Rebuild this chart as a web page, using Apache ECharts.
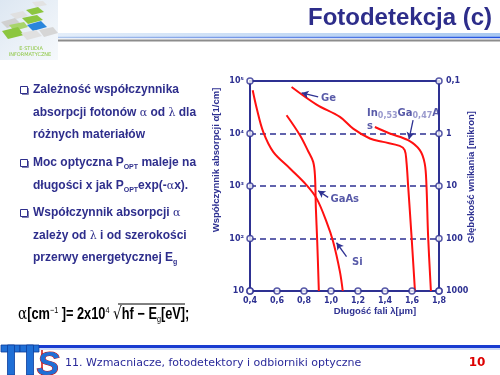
<!DOCTYPE html>
<html><head><meta charset="utf-8">
<script src="https://cdn.jsdelivr.net/npm/echarts@6/dist/echarts.min.js"></script>
<style>html,body{margin:0;padding:0;background:#fff}#c{width:500px;height:375px}</style>
</head><body><div id="c"></div>
<script>
// ---- data ----
const xTickValues = [0.4, 0.6, 0.8, 1.0, 1.2, 1.4, 1.6, 1.8];
const xTickLabels = ['0,4', '0,6', '0,8', '1,0', '1,2', '1,4', '1,6', '1,8'];
const yTickValues = [10, 100, 1000, 10000, 100000];
const leftTickLabels = ['10', '10²', '10³', '10⁴', '10⁵'];
const rightTickLabels = ['1000', '100', '10', '1', '0,1'];

const siX = [0.420, 0.450, 0.498, 0.572, 0.696, 0.819, 0.893, 0.967, 1.016, 1.066, 1.087];
const siY = [66500, 29900, 10700, 4470, 2160, 1040, 581, 208, 87, 23.4, 10];
const gaasX = [0.671, 0.770, 0.831, 0.868, 0.881, 0.888, 0.898, 0.910];
const gaasY = [22300, 9290, 4600, 2880, 1610, 375, 87, 10];
const geX = [0.708, 0.893, 1.066, 1.164, 1.288, 1.386, 1.509, 1.546, 1.559, 1.571, 1.596, 1.622];
const geY = [76900, 35600, 20700, 12400, 8030, 6920, 5800, 4820, 2880, 1040, 116, 10];
const ingaasX = [1.325, 1.435, 1.571, 1.658, 1.694, 1.707, 1.719, 1.740];
const ingaasY = [13300, 10000, 7460, 4820, 2690, 1040, 116, 10];

const annNames = ['Ge', 'GaAs', 'Si', 'InGaAs'];
const annLabels = ['Ge', 'GaAs', 'Si', 'In{s|0,53}Ga{s|0,47}A\ns'];
const annLabelPos = [[0.923, 46300], [0.992, 556], [1.152, 34.7], [1.263, 17900]];
const annTails = [[0.905, 49600], [0.979, 607], [1.115, 45], [1.608, 17900]];
const annHeads = [[0.782, 59100], [0.905, 811], [1.041, 83], [1.578, 7800]];

// ---- helpers ----
const NAVY = '#2e3192';
const TXT = '#2e2e8c';
const pairs = (xs, ys) => xs.map((x, i) => [x, ys[i]]);
const lblMap = (vals, labels) => v => {
  const i = vals.findIndex(t => Math.abs(t - v) / t < 1e-6);
  return i >= 0 ? labels[i] : '';
};

const tickCircles = [];
xTickValues.forEach(x => tickCircles.push([x, yTickValues[0]]));
yTickValues.forEach(y => { tickCircles.push([xTickValues[0], y]); tickCircles.push([xTickValues[xTickValues.length - 1], y]); });

const curve = (name, xs, ys) => ({
  name, type: 'line', data: pairs(xs, ys), smooth: 0.35, showSymbol: false, symbol: 'none',
  lineStyle: { color: '#ff1010', width: 2 }, z: 3
});

const chart = echarts.init(document.getElementById('c'), null, { renderer: 'canvas' });

// logo tiles
const tiles = [
  [[32,2],[43,1],[47,5],[36,7], '#e2e2e2'],
  [[26,10],[38,7],[44,12],[32,15], '#8cc63f'],
  [[10,14],[23,11],[28,16],[16,19], '#e0e0e0'],
  [[22,18],[37,15],[43,20],[28,24], '#8cc63f'],
  [[1,22],[15,18],[21,24],[7,28], '#d0d0d0'],
  [[27,25],[41,21],[47,27],[33,31], '#2a86dc'],
  [[9,25],[24,22],[28,27],[14,31], '#a8d46a'],
  [[2,31],[18,27],[24,35],[8,39], '#8cc63f'],
  [[39,30],[53,27],[58,33],[44,37], '#d6d6d6'],
  [[21,33],[36,30],[42,36],[27,40], '#e0e0e0']
];
const logo = [{ type: 'rect', shape: { x: 0, y: 0, width: 58, height: 60 },
  style: { fill: new echarts.graphic.LinearGradient(0, 0, 1, 1, [{ offset: 0, color: '#dde7f2' }, { offset: 1, color: '#f6f9fc' }]) } }];
tiles.forEach(t => logo.push({ type: 'polygon', shape: { points: t.slice(0, 4) }, style: { fill: t[4] } }));
logo.push({ type: 'text', x: 31, y: 49, style: { text: 'E-STUDIA', fill: '#8cc63f', font: '5px "DejaVu Sans"', align: 'center', verticalAlign: 'middle' } });
logo.push({ type: 'text', x: 30, y: 55, style: { text: 'INFORMATYCZNE', fill: '#8cc63f', font: '5px "DejaVu Sans"', align: 'center', verticalAlign: 'middle' } });

const bulletRich = {
  g: { fontFamily: '"DejaVu Serif"', fontWeight: 'normal', fontSize: 11, color: TXT },
  s: { fontSize: 7, fontWeight: 'bold', fontFamily: '"Liberation Sans"', color: TXT, verticalAlign: 'bottom', lineHeight: 7 }
};
const bulletLines = [
  ['Zależność współczynnika', 90, true],
  ['absorpcji fotonów {g|α} od {g|λ} dla', 113, false],
  ['różnych materiałów', 135, false],
  ['Moc optyczna P{s|OPT} maleje na', 163, true],
  ['długości x jak P{s|OPT}exp(-{g|α}x).', 186, false],
  ['Współczynnik absorpcji {g|α}', 213, true],
  ['zależy od {g|λ} i od szerokości', 236, false],
  ['przerwy energetycznej E{s|g}', 258, false]
];
const bullets = [];
bulletLines.forEach(([t, y, b]) => {
  bullets.push({ type: 'text', x: 33, y: y, style: { text: t, fill: TXT, font: 'bold 12px "Liberation Sans"', verticalAlign: 'middle', lineHeight: 15, rich: bulletRich } });
  if (b) {
    bullets.push({ type: 'rect', shape: { x: 20.5, y: y - 3.5, width: 7, height: 7 }, style: { fill: '#fff', stroke: TXT, lineWidth: 1 } });
    bullets.push({ type: 'polyline', shape: { points: [[22, y + 4.5], [28.5, y + 4.5], [28.5, y - 2]] }, style: { stroke: '#8080b0', lineWidth: 1, fill: null } });
  }
});

const option = {
  animation: false,
  backgroundColor: '#ffffff',
  textStyle: { fontFamily: '"DejaVu Sans"' },
  grid: { left: 250, top: 81, width: 189, height: 210, show: true, borderColor: NAVY, borderWidth: 2, backgroundColor: 'transparent' },
  xAxis: {
    type: 'value', min: 0.4, max: 1.8, interval: 0.2,
    axisLine: { show: true, lineStyle: { color: NAVY, width: 2 } },
    axisTick: { show: false }, splitLine: { show: false },
    axisLabel: { color: NAVY, fontSize: 8, fontWeight: 'bold', margin: 6, formatter: lblMap(xTickValues, xTickLabels) }
  },
  yAxis: [{
    type: 'log', logBase: 10, min: 10, max: 100000,
    axisLine: { show: true, lineStyle: { color: NAVY, width: 2 } },
    axisTick: { show: false },
    splitLine: { show: true, lineStyle: { color: NAVY, width: 1.5, type: [6, 4] } },
    axisLabel: { color: NAVY, fontSize: 8, fontWeight: 'bold', margin: 6, formatter: lblMap(yTickValues, leftTickLabels) }
  }, {
    type: 'log', logBase: 10, min: 10, max: 100000, position: 'right',
    axisLine: { show: true, lineStyle: { color: NAVY, width: 2 } },
    axisTick: { show: false }, splitLine: { show: false },
    axisLabel: { color: NAVY, fontSize: 8, fontWeight: 'bold', margin: 7, formatter: lblMap(yTickValues, rightTickLabels) }
  }],
  series: [
    curve('Si', siX, siY),
    curve('GaAs', gaasX, gaasY),
    curve('Ge', geX, geY),
    curve('InGaAs', ingaasX, ingaasY),
    {
      name: 'ticks', type: 'scatter', data: tickCircles, symbol: 'circle', symbolSize: 6, clip: false, z: 5,
      itemStyle: { color: '#ffffff', borderColor: NAVY, borderWidth: 1.5 }, silent: true
    },
    {
      name: 'annotations', type: 'scatter', symbolSize: 1, clip: false, z: 6, silent: true,
      data: annLabelPos.map((p, i) => ({ value: p, name: annNames[i], label: { formatter: annLabels[i] } })),
      itemStyle: { color: 'rgba(0,0,0,0)' },
      label: { show: true, position: 'right', distance: 0, color: NAVY, fontSize: 10, fontWeight: 'bold', lineHeight: 13,
        rich: { s: { fontSize: 8, color: '#8080c0', fontWeight: 'bold', verticalAlign: 'bottom', lineHeight: 8 } } },
      markLine: {
        silent: true, symbol: ['none', 'arrow'], symbolSize: [6, 7], animation: false,
        lineStyle: { color: NAVY, width: 1.3, type: 'solid' }, label: { show: false },
        data: annTails.map((t, i) => [{ coord: t }, { coord: annHeads[i] }])
      }
    }
  ],
  graphic: [
    ...logo,
    { type: 'text', x: 492, y: 18, style: { text: 'Fotodetekcja (c)', fill: '#2d2d8a', font: 'bold 24px "Liberation Sans"', align: 'right', verticalAlign: 'middle' } },
    { type: 'rect', shape: { x: 58, y: 33, width: 442, height: 4 }, style: { fill: new echarts.graphic.LinearGradient(0, 0, 1, 0, [{ offset: 0, color: '#e4eefa' }, { offset: 1, color: '#a8c8f0' }]) } },
    { type: 'line', shape: { x1: 58, y1: 37.5, x2: 500, y2: 37.5 }, style: { stroke: new echarts.graphic.LinearGradient(0, 0, 1, 0, [{ offset: 0, color: '#b0c8ec' }, { offset: 1, color: '#2050e0' }]), lineWidth: 1.5 } },
    { type: 'line', shape: { x1: 58, y1: 40.5, x2: 500, y2: 40.5 }, style: { stroke: '#8c8c8c', lineWidth: 2 } },
    ...bullets,
    { type: 'text', x: 18, y: 315, scaleX: 0.8, style: {
        text: '{g|α}[cm{p|−1} ]= 2x10{p|4} {r|√}hf − E{b|g}[eV];',
        fill: '#000', font: 'bold 16px "Liberation Sans"', verticalAlign: 'middle', lineHeight: 18,
        rich: {
          g: { fontFamily: '"DejaVu Serif"', fontWeight: 'normal', fontSize: 17 },
          p: { fontSize: 9, verticalAlign: 'top', lineHeight: 9 },
          b: { fontSize: 9, verticalAlign: 'bottom', lineHeight: 9 },
          r: { fontFamily: '"DejaVu Sans"', fontWeight: 'normal', fontSize: 17 }
        } } },
    { type: 'line', shape: { x1: 118, y1: 304, x2: 185, y2: 304 }, style: { stroke: '#000', lineWidth: 1 } },
    { type: 'text', x: 216, y: 160, rotation: Math.PI / 2, style: { text: 'Współczynnik absorpcji α[1/cm]', fill: NAVY, font: 'bold 9.5px "Liberation Sans"', align: 'center', verticalAlign: 'middle' } },
    { type: 'text', x: 471, y: 177, rotation: Math.PI / 2, style: { text: 'Głębokość wnikania [mikron]', fill: NAVY, font: 'bold 9.5px "Liberation Sans"', align: 'center', verticalAlign: 'middle' } },
    { type: 'text', x: 375, y: 311, style: { text: 'Długość fali λ[μm]', fill: NAVY, font: 'bold 9.5px "Liberation Sans"', align: 'center', verticalAlign: 'middle' } },
    // footer
    { type: 'line', shape: { x1: 36, y1: 346.5, x2: 500, y2: 346.5 }, style: { stroke: '#1a3cd0', lineWidth: 3 } },
    { type: 'line', shape: { x1: 40, y1: 349, x2: 500, y2: 349 }, style: { stroke: '#9db6ef', lineWidth: 1 } },
    { type: 'rect', shape: { x: 1, y: 345, width: 19, height: 7 }, style: { fill: '#1f6fd6', stroke: '#0d3d9c', lineWidth: 0.8 } },
    { type: 'rect', shape: { x: 7.5, y: 345, width: 7, height: 30 }, style: { fill: '#1f6fd6', stroke: '#0d3d9c', lineWidth: 0.8 } },
    { type: 'rect', shape: { x: 20, y: 345, width: 19, height: 7 }, style: { fill: '#1f6fd6', stroke: '#0d3d9c', lineWidth: 0.8 } },
    { type: 'rect', shape: { x: 26.5, y: 345, width: 7, height: 30 }, style: { fill: '#1f6fd6', stroke: '#0d3d9c', lineWidth: 0.8 } },
    { type: 'line', shape: { x1: 42, y1: 350, x2: 42, y2: 375 }, style: { stroke: '#cc1010', lineWidth: 1.5 } },
    { type: 'text', x: 48, y: 366, style: { text: 'S', fill: '#1f6fd6', stroke: '#cc1010', lineWidth: 1, font: 'italic bold 34px "Liberation Sans"', align: 'center', verticalAlign: 'middle' } },
    { type: 'text', x: 65, y: 363, style: { text: '11. Wzmacniacze, fotodetektory i odbiorniki optyczne', fill: '#2a2a9a', font: '11px "DejaVu Sans"', verticalAlign: 'middle' } },
    { type: 'text', x: 477, y: 363, style: { text: '10', fill: '#dd0000', font: 'bold 12px "DejaVu Sans"', align: 'center', verticalAlign: 'middle' } }
  ]
};
chart.setOption(option);
</script>
</body></html>
